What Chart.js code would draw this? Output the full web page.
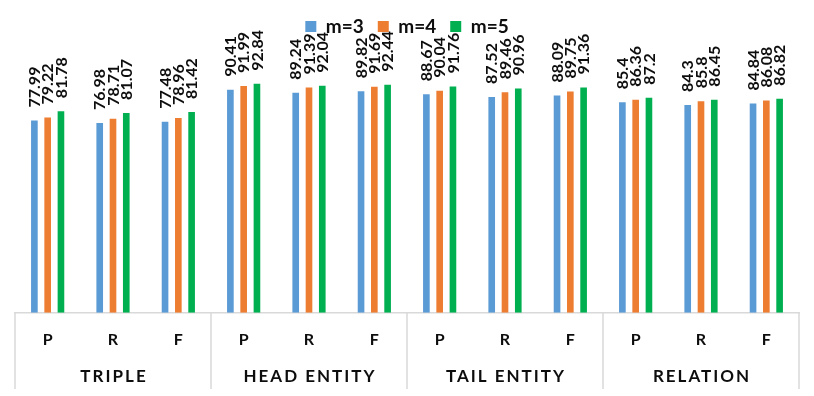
<!DOCTYPE html>
<html>
<head>
<meta charset="utf-8">
<script src="https://cdn.jsdelivr.net/npm/chart.js@4"></script>
<style>
  html, body { margin: 0; padding: 0; background: #ffffff; }
  #wrap { width: 814px; height: 396px; position: relative; }
</style>
</head>
<body>
<div id="wrap"><canvas id="c" width="814" height="396"></canvas></div>
<script>
const categories = ['P', 'R', 'F', 'P', 'R', 'F', 'P', 'R', 'F', 'P', 'R', 'F'];
const groups = ['TRIPLE', 'HEAD ENTITY', 'TAIL ENTITY', 'RELATION'];
const seriesNames = ['m=3', 'm=4', 'm=5'];
const m3 = [77.99, 76.98, 77.48, 90.41, 89.24, 89.82, 88.67, 87.52, 88.09, 85.4, 84.3, 84.84];
const m4 = [79.22, 78.71, 78.96, 91.99, 91.39, 91.69, 90.04, 89.46, 89.75, 86.36, 85.8, 86.08];
const m5 = [81.78, 81.07, 81.42, 92.84, 92.04, 92.44, 91.76, 90.96, 91.36, 87.2, 86.45, 86.82];
const colors = ['#5b9bd5', '#ed7d31', '#00b050'];

const FONT = 'Lato, "Open Sans", sans-serif';
const TEXT = '#0d0d0d';
const LINE = '#d9d9d9';

const valueLabels = {
  id: 'valueLabels',
  afterDatasetsDraw(chart) {
    const ctx = chart.ctx;
    const size = 16;
    ctx.save();
    ctx.font = 'bold ' + size + 'px ' + FONT;
    ctx.fillStyle = TEXT;
    ctx.textAlign = 'left';
    ctx.textBaseline = 'alphabetic';
    chart.data.datasets.forEach((ds, di) => {
      const meta = chart.getDatasetMeta(di);
      meta.data.forEach((el, i) => {
        ctx.save();
        ctx.translate(el.x, el.y - 13);
        ctx.rotate(-Math.PI / 2);
        ctx.fillText(String(ds.data[i]), 0, size * 0.36);
        ctx.restore();
      });
    });
    ctx.restore();
  }
};

const groupAxis = {
  id: 'groupAxis',
  afterDraw(chart) {
    const ctx = chart.ctx;
    const x = chart.scales.x;
    const n = categories.length;
    ctx.save();
    ctx.strokeStyle = LINE;
    ctx.lineWidth = 1.5;
    for (let g = 0; g <= groups.length; g++) {
      const i = g * 3;
      let px;
      if (i === 0) px = x.left;
      else if (i >= n) px = x.right;
      else px = (x.getPixelForValue(i - 1) + x.getPixelForValue(i)) / 2;
      ctx.beginPath();
      ctx.moveTo(px, x.top);
      ctx.lineTo(px, 389);
      ctx.stroke();
    }
    ctx.font = 'bold 17px ' + FONT;
    ctx.fillStyle = TEXT;
    ctx.textAlign = 'center';
    ctx.textBaseline = 'middle';
    const sp = 2;
    ctx.letterSpacing = sp + 'px';
    groups.forEach((g, gi) => {
      const cx = (x.getPixelForValue(gi * 3) + x.getPixelForValue(gi * 3 + 2)) / 2;
      ctx.fillText(g, cx + sp / 2, 377);
    });
    ctx.restore();
  }
};

new Chart(document.getElementById('c'), {
  type: 'bar',
  data: {
    labels: categories,
    datasets: [
      { label: seriesNames[0], data: m3, backgroundColor: colors[0] },
      { label: seriesNames[1], data: m4, backgroundColor: colors[1] },
      { label: seriesNames[2], data: m5, backgroundColor: colors[2] }
    ]
  },
  options: {
    responsive: false,
    animation: false,
    devicePixelRatio: 1,
    categoryPercentage: 0.61,
    barPercentage: 0.5,
    layout: { padding: { top: 3, left: 15, right: 15, bottom: 30 } },
    plugins: {
      legend: {
        position: 'top',
        labels: {
          boxWidth: 11,
          boxHeight: 11,
          padding: 14,
          color: TEXT,
          font: { family: FONT, size: 19, weight: 'bold' }
        }
      },
      tooltip: { enabled: false }
    },
    scales: {
      x: {
        grid: { display: false, drawTicks: false },
        border: { display: true, color: LINE, width: 1.5 },
        ticks: {
          padding: 17,
          color: TEXT,
          maxRotation: 0,
          autoSkip: false,
          font: { family: FONT, size: 16, weight: 'bold' }
        }
      },
      y: {
        display: false,
        min: 0,
        max: 108.2
      }
    }
  },
  plugins: [valueLabels, groupAxis]
});
</script>
</body>
</html>
